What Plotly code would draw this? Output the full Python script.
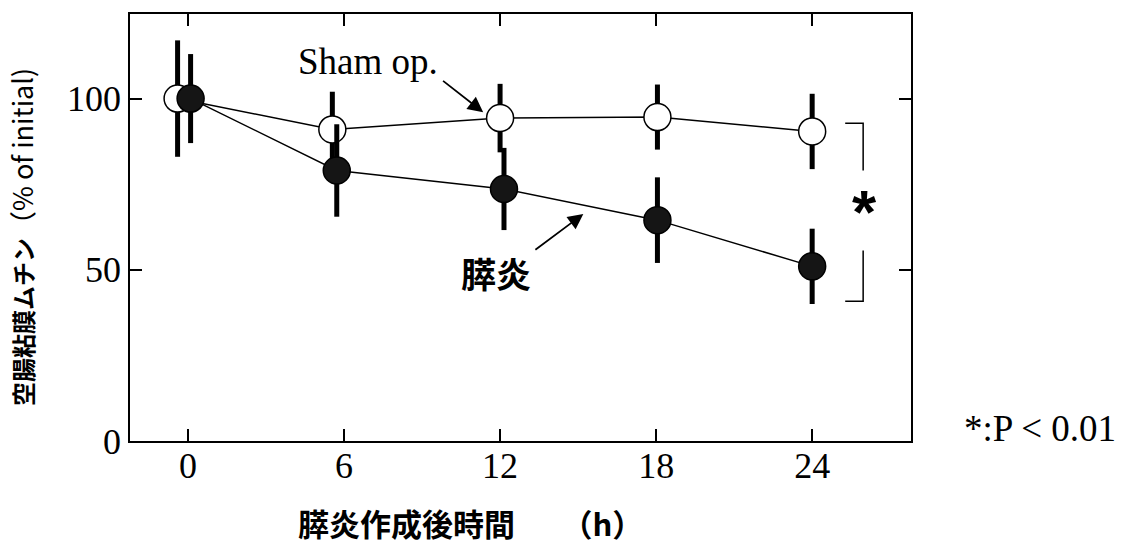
import plotly.graph_objects as go

# data
sham_x = [-0.4, 5.55, 12.0, 18.05, 24.0]
sham_y = [100, 91, 94.3, 94.6, 90.4]
sham_err = [17, 11, 10, 9.5, 11]

panc_x = [0.1, 5.72, 12.15, 18.05, 24.0]
panc_y = [100, 79, 73.6, 64.5, 51]
panc_err = [13, 13.5, 12, 12.5, 11]

x_ticks = [0, 6, 12, 18, 24]
y_ticks = [0, 50, 100]

serif = "Liberation Serif, Times New Roman, serif"
jp = "Noto Sans CJK JP, sans-serif"

fig = go.Figure()
fig.add_trace(go.Scatter(
    x=sham_x, y=sham_y, mode="lines+markers",
    line=dict(color="black", width=1.5),
    marker=dict(size=27, color="white", line=dict(color="black", width=1.5)),
    error_y=dict(type="data", array=sham_err, thickness=5, width=0, color="black"),
    showlegend=False, cliponaxis=False))
fig.add_trace(go.Scatter(
    x=panc_x, y=panc_y, mode="lines+markers",
    line=dict(color="black", width=1.5),
    marker=dict(size=27, color="#151515", line=dict(color="black", width=1.5)),
    error_y=dict(type="data", array=panc_err, thickness=5, width=0, color="black"),
    showlegend=False, cliponaxis=False))

# significance bracket
bx0, bx1 = 25.27, 25.96
for seg in [[(bx0, 92.8), (bx1, 92.8), (bx1, 79)], [(bx1, 55.6), (bx1, 40.8), (bx0, 40.8)]]:
    path = "M " + " L ".join(f"{a},{b}" for a, b in seg)
    fig.add_shape(type="path", path=path, xref="x", yref="y",
                  line=dict(color="black", width=1.5))

L, R, T, B = 130, 911, 12, 441
W, H = 1128, 546


def px_ann(px, py, text, font, xanchor="center", yanchor="middle", **kw):
    d = dict(x=(px - L) / (R - L), y=(B - py) / (B - T), xref="paper", yref="paper",
             text=text, showarrow=False, font=font, xanchor=xanchor, yanchor=yanchor)
    d.update(kw)
    return d


annotations = [
    px_ann(864, 210, "<b>*</b>", dict(family="Liberation Sans, sans-serif", size=62, color="black")),
    dict(x=11.35, y=96.0, ax=9.75, ay=105.5, axref="x", ayref="y", xref="x", yref="y",
         text="", showarrow=True, arrowhead=2, arrowsize=1.7, arrowwidth=1.8, arrowcolor="black"),
    px_ann(296, 60, "Sham op.", dict(family=serif, size=37, color="black"), xanchor="left"),
    dict(x=15.2, y=66.3, ax=13.3, ay=55.5, axref="x", ayref="y", xref="x", yref="y",
         text="", showarrow=True, arrowhead=2, arrowsize=1.7, arrowwidth=1.8, arrowcolor="black"),
    px_ann(496, 272, "<b>膵炎</b>", dict(family=jp, size=35, color="black")),
    px_ann(962, 428, "*:P < 0.01", dict(family=serif, size=37, color="black"), xanchor="left"),
    px_ann(296, 523, "<b>膵炎作成後時間　　（h）</b>", dict(family=jp, size=31, color="black"),
           xanchor="left"),
    px_ann(22, 236, "<b>空腸粘膜ムチン</b><span style='font-size:27px'>（% of initial)</span>",
           dict(family=jp, size=24, color="black"), textangle=-90),
]
fig.update_layout(annotations=annotations)

fig.update_xaxes(range=[-2.23, 27.8], tickvals=x_ticks, ticktext=[str(v) for v in x_ticks],
                 ticks="inside", ticklen=12, tickwidth=1.5, tickcolor="black",
                 showline=True, linecolor="black", linewidth=1.8, mirror="ticks",
                 showgrid=False, zeroline=False,
                 tickfont=dict(family=serif, size=36, color="black"), ticklabelstandoff=-8)
fig.update_yaxes(range=[0, 124.7], tickvals=y_ticks, ticktext=[str(v) for v in y_ticks],
                 ticks="inside", ticklen=12, tickwidth=1.5, tickcolor="black",
                 showline=True, linecolor="black", linewidth=1.8, mirror="ticks",
                 showgrid=False, zeroline=False,
                 tickfont=dict(family=serif, size=36, color="black"), ticklabelstandoff=0)

fig.update_layout(width=W, height=H, margin=dict(l=L, r=W - R, t=T, b=H - B),
                  plot_bgcolor="white", paper_bgcolor="white")
fig.write_html("out.html")
